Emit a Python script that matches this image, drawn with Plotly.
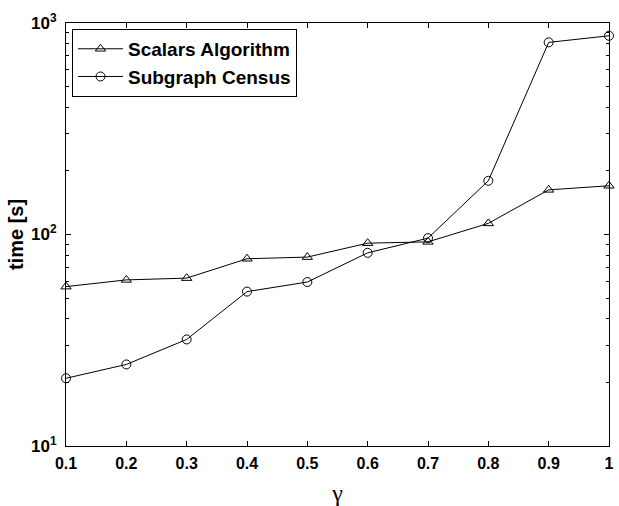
import plotly.graph_objects as go

gamma = [0.1, 0.2, 0.3, 0.4, 0.5, 0.6, 0.7, 0.8, 0.9, 1.0]
scalars_time = [56.7, 61.0, 62.2, 76.8, 78.2, 91.0, 92.3, 112.9, 162.6, 170.0]
census_time = [20.9, 24.3, 31.9, 53.7, 59.6, 81.9, 96.1, 179.5, 810.0, 870.0]
x_tick_vals = [0.1, 0.2, 0.3, 0.4, 0.5, 0.6, 0.7, 0.8, 0.9, 1.0]
x_tick_text = ["0.1", "0.2", "0.3", "0.4", "0.5", "0.6", "0.7", "0.8", "0.9", "1"]
y_tick_vals = [10, 100, 1000]
y_tick_text = ["10<sup>1</sup>", "10<sup>2</sup>", "10<sup>3</sup>"]
y_minor_vals = [20, 30, 40, 50, 60, 70, 80, 90, 200, 300, 400, 500, 600, 700, 800, 900]

FONT = "Liberation Sans, Arial, Helvetica, sans-serif"

fig = go.Figure()
fig.add_trace(go.Scatter(
    x=gamma, y=scalars_time, name="Scalars Algorithm", mode="lines+markers",
    line=dict(color="black", width=1),
    marker=dict(symbol="triangle-up-open", size=9, color="black", line=dict(width=1)),
    cliponaxis=False,
))
fig.add_trace(go.Scatter(
    x=gamma, y=census_time, name="Subgraph Census", mode="lines+markers",
    line=dict(color="black", width=1),
    marker=dict(symbol="circle-open", size=9, color="black", line=dict(width=1)),
    cliponaxis=False,
))

fig.update_layout(
    width=619, height=506,
    margin=dict(l=66, r=5, t=23, b=53),
    paper_bgcolor="white", plot_bgcolor="white",
    font=dict(family=FONT, color="black", size=16, weight="bold"),
    showlegend=True,
    legend=dict(
        x=0.011, y=0.986, xanchor="left", yanchor="top",
        bgcolor="white", bordercolor="black", borderwidth=1,
        font=dict(family=FONT, size=19, color="black", weight="bold"),
        tracegroupgap=0, itemwidth=45,
    ),
    xaxis=dict(
        range=[0.1, 1.0], tickvals=x_tick_vals, ticktext=x_tick_text,
        ticks="inside", ticklen=5, tickcolor="black", showgrid=False, zeroline=False,
        showline=True, linecolor="black", linewidth=1, mirror="ticks",
        tickfont=dict(family=FONT, size=16, weight="bold"), ticklabelstandoff=3,
        title=dict(text="γ", font=dict(family="Liberation Serif, DejaVu Serif, serif", size=24, weight="normal"), standoff=12),
    ),
    yaxis=dict(
        type="log", range=[1, 3], tickvals=y_tick_vals, ticktext=y_tick_text,
        ticks="inside", ticklen=5, tickcolor="black", showgrid=False, zeroline=False,
        showline=True, linecolor="black", linewidth=1, mirror="ticks",
        tickfont=dict(family=FONT, size=17, weight="bold"), ticklabelstandoff=5,
        minor=dict(tickmode="array", tickvals=y_minor_vals, ticks="inside", ticklen=3,
                   tickcolor="black", showgrid=False),
        title=dict(text="time [s]", font=dict(family=FONT, size=20, weight="bold"), standoff=2),
    ),
)

fig.write_html("out.html", config={"displayModeBar": False},
               post_script="document.body.style.margin='0';document.body.style.padding='0';")
